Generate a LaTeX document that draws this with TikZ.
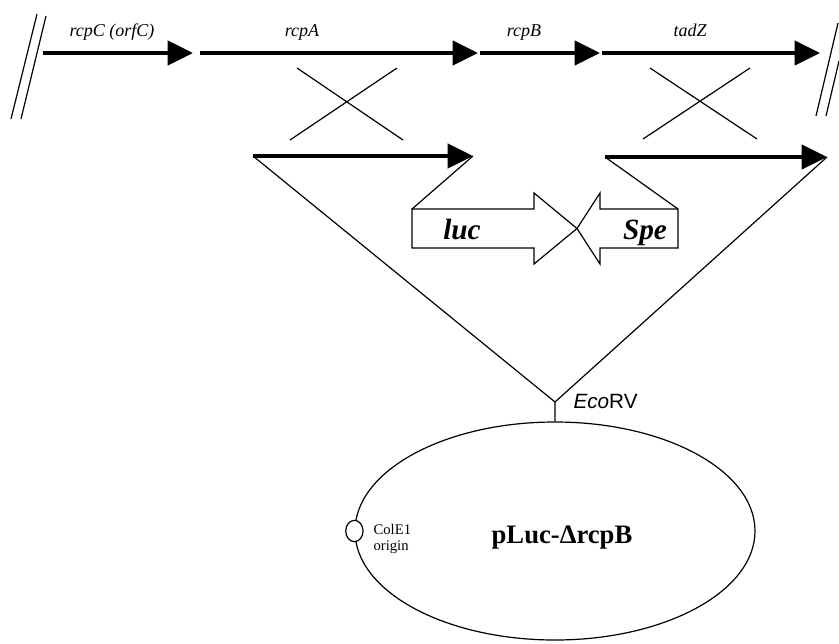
\documentclass[tikz,border=0pt]{standalone}
\usepackage{fontspec}
\setmainfont{Liberation Serif}
\newfontfamily\arialfont{Liberation Sans}
\usetikzlibrary{arrows.meta,shapes.geometric}

\begin{document}
\begin{tikzpicture}[x=0.75pt, y=-0.75pt, line width=0.9pt,
    gene/.style={line width=3.4pt, -{Triangle[length=19pt, width=18pt]}},
    genename/.style={anchor=base, font=\fontsize{13.5}{15}\selectfont\itshape},
    cassette/.style={anchor=base, font=\fontsize{22}{26}\selectfont\bfseries\itshape}]
  \useasboundingbox (0, 0) rectangle (839, 643);
  % chromosome
  \coordinate (c0) at (43, 53);   \coordinate (c1) at (193, 53);
  \coordinate (a0) at (200, 53);  \coordinate (a1) at (478, 53);
  \coordinate (b0) at (480, 53);  \coordinate (b1) at (600, 53);
  \coordinate (z0) at (602, 53);  \coordinate (z1) at (820, 53);
  \draw[gene] (c0) -- (c1);
  \draw[gene] (a0) -- (a1);
  \draw[gene] (b0) -- (b1);
  \draw[gene] (z0) -- (z1);
  \node (rcpC) [genename] at (112, 36) {rcpC (orfC)};
  \node (rcpA) [genename] at (302, 36) {rcpA};
  \node (rcpB) [genename] at (524, 36) {rcpB};
  \node (tadZ) [genename] at (690, 36) {tadZ};
  \draw (37, 14) -- (11, 119)  (46, 16) -- (21, 119)
        (838, 23) -- (816, 116)  (839, 61) -- (826, 116);
  % crossover
  \draw (297, 68) -- (403, 140)  (397, 68) -- (290, 140)
        (650, 68) -- (757, 139)  (750, 68) -- (643, 139);
  % flanks and cassette
  \coordinate (la0) at (253, 156); \coordinate (la1) at (473, 156);
  \coordinate (ra0) at (605, 157); \coordinate (ra1) at (827, 157);
  \draw[gene] (la0) -- (la1);
  \draw[gene] (ra0) -- (ra1);
  \draw (412, 209) coordinate (luc0) -- (534, 209) -- (534, 193) -- (577, 228.5)
        -- (534, 264) -- (534, 248) -- (412, 248) -- cycle;
  \draw (678, 209) coordinate (spe0) -- (600, 209) -- (600, 193) -- (577, 228.5)
        -- (600, 264) -- (600, 248) -- (678, 248) -- cycle;
  \node (luc) [cassette] at (462, 239) {luc};
  \node (spe) [cassette] at (645, 239) {Spe};
  % plasmid
  \coordinate (eco) at (555, 402);
  \node (plasmid) [draw, ellipse, minimum width=300pt, minimum height=163.5pt, inner sep=0pt] at (555, 531) {};
  \node (ori) [draw, ellipse, fill=white, minimum width=13pt, minimum height=16pt, inner sep=0pt] at (plasmid.west) {};
  \node (orilabel) [anchor=west, align=left, inner sep=0pt, font=\fontsize{11}{11.5}\selectfont] at (373, 539) {ColE1\\origin};
  \node (name) [anchor=base, font=\fontsize{20}{24}\selectfont\bfseries] at (562, 543) {pLuc-Δ{}rcpB};
  \node (site) [anchor=base west, inner sep=0pt, font=\fontsize{15.5}{18}\selectfont\arialfont] at (573, 408) {{\itshape Eco}RV};
  \draw (la0) -- (eco) -- (ra1)
        (la1) -- (luc0)
        (ra0) -- (spe0)
        (eco) -- (plasmid.north);
\end{tikzpicture}
\end{document}
